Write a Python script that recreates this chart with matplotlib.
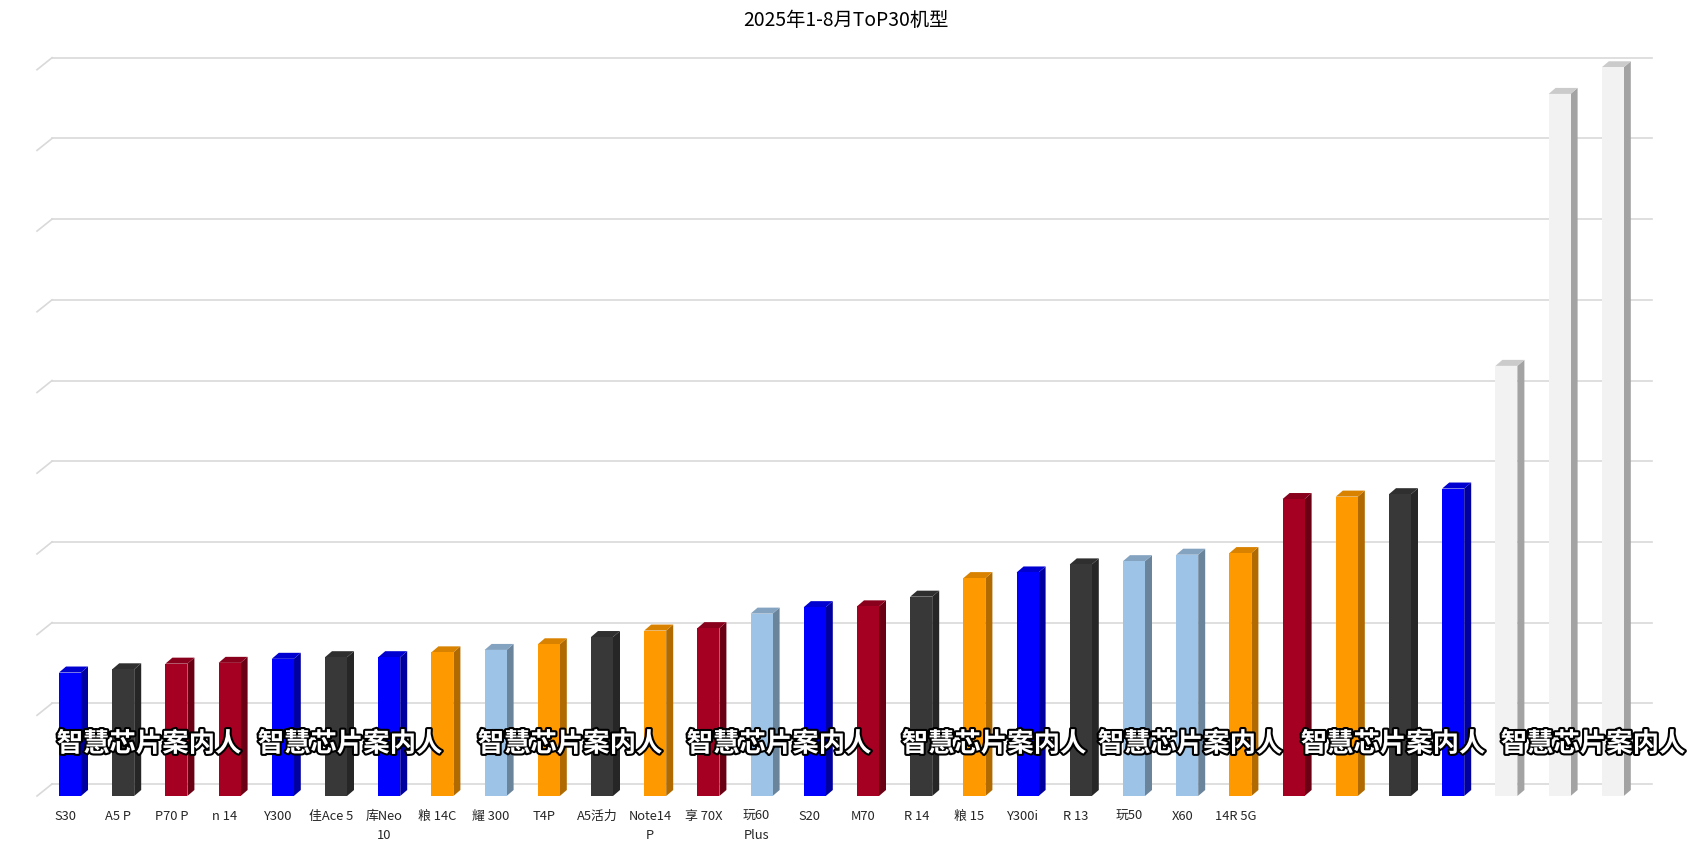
import matplotlib
matplotlib.use("Agg")
import matplotlib.pyplot as plt
import matplotlib.patheffects as pe
from matplotlib.patches import Polygon
from matplotlib.colors import to_rgb

plt.rcParams['font.family'] = ['Noto Sans CJK SC', 'DejaVu Sans']

title = "2025年1-8月ToP30机型"

# model names (last seven are covered in the source image)
models = ["S30", "A5 P", "P70 P", "n 14", "Y300", "佳Ace 5", "库Neo\n10", "粮 14C",
          "耀 300", "T4P", "A5活力", "Note14\nP", "享 70X", "玩60\nPlus", "S20", "M70",
          "R 14", "粮 15", "Y300i", "R 13", "玩50", "X60", "14R 5G",
          "", "", "", "", "", "", ""]

# bar heights in gridline units (no y labels shown on the chart)
values = [1.53, 1.57, 1.64, 1.65, 1.70, 1.72, 1.72, 1.78, 1.81, 1.88,
          1.97, 2.05, 2.08, 2.26, 2.34, 2.35, 2.47, 2.70, 2.77, 2.87,
          2.91, 2.99, 3.01, 3.68, 3.71, 3.74, 3.81, 5.33, 8.70, 9.03]

groups = ["blue", "dark", "red", "red", "blue", "dark", "blue", "orange", "lblue", "orange",
          "dark", "orange", "red", "lblue", "blue", "red", "dark", "orange", "blue", "dark",
          "lblue", "lblue", "orange", "red", "orange", "dark", "blue", "white", "white", "white"]

# front, side colours
palette = {
    "blue":   ("#0000FF", "#0000A0"),
    "dark":   ("#383838", "#262626"),
    "red":    ("#A50021", "#6B0015"),
    "orange": ("#FF9900", "#B06A00"),
    "lblue":  ("#9DC3E6", "#6A849C"),
    "white":  ("#F2F2F2", "#A3A3A3"),
}

watermark = "智慧芯片案内人"
wm_x = [149, 350, 570, 779, 994, 1190, 1393, 1593]

W, H = 1703, 865
fig = plt.figure(figsize=(W / 100, H / 100), dpi=100)
ax = fig.add_axes([0, 0, 1, 1])

# pixel geometry of the 3D look
x0_px, step_px = 70, 53.2       # first bar centre, spacing
y0_px, unit_px = 796, 80.7      # front baseline (from top), px per gridline
ax.set_xlim(-x0_px / step_px, (W - x0_px) / step_px)
ax.set_ylim((y0_px - H) / unit_px, y0_px / unit_px)
ax.axis("off")

px_x = 1 / step_px
px_y = 1 / unit_px
wall_dx, wall_dy = 15 * px_x, 12 * px_y
bar_dx, bar_dy = 7 * px_x, 6 * px_y
left, right = -0.62, 29.45

# back wall gridlines + floor diagonals
for k in range(10):
    ax.plot([left + wall_dx, right + wall_dx], [k + wall_dy, k + wall_dy],
            color="#D9D9D9", lw=1.2, zorder=1)
    ax.plot([left, left + wall_dx], [k, k + wall_dy], color="#D9D9D9", lw=1.2, zorder=1)

width = 22 * px_x
xs = list(range(len(values)))
fronts = [palette[g][0] for g in groups]
sides = [palette[g][1] for g in groups]
ax.bar(xs, values, width=width, color=fronts, zorder=3)

for x, h, f, s in zip(xs, values, fronts, sides):
    xl, xr = x - width / 2, x + width / 2
    side = Polygon([(xr, 0), (xr + bar_dx, bar_dy), (xr + bar_dx, h + bar_dy), (xr, h)],
                   closed=True, facecolor=s, edgecolor="none", zorder=2)
    top_c = tuple((a + b) / 2 for a, b in zip(to_rgb(f), to_rgb(s)))
    top = Polygon([(xl, h), (xr, h), (xr + bar_dx, h + bar_dy), (xl + bar_dx, h + bar_dy)],
                  closed=True, facecolor=top_c, edgecolor="none", zorder=2)
    ax.add_patch(side)
    ax.add_patch(top)

for x, name in zip(xs, models):
    if name:
        ax.text(x - 5 * px_x, -14 * px_y, name, ha="center", va="top",
                fontsize=9.3, color="#262626", linespacing=1.6)

fig.text(846 / W, 1 - 20 / H, title, ha="center", va="center", fontsize=13.9, color="#000000")

for cx in wm_x:
    fig.text(cx / W, 1 - 744 / H, watermark, ha="center", va="center",
             fontsize=19, fontweight="bold", color="white", zorder=10,
             path_effects=[pe.Stroke(linewidth=3, foreground="black"), pe.Normal()])

fig.savefig("out.png", dpi=100, facecolor="white")
